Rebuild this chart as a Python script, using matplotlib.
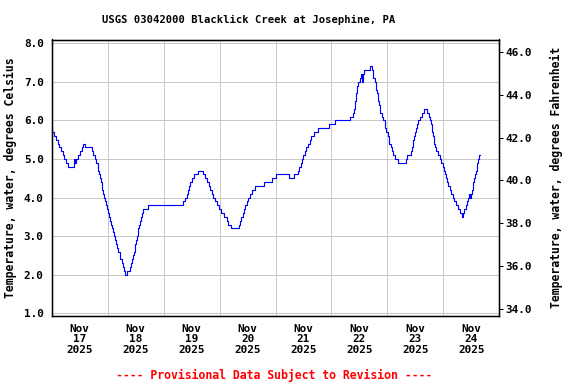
import matplotlib
matplotlib.use("Agg")
import matplotlib.pyplot as plt
import numpy as np

# hours since 2025-11-17 00:00 and water temperature (deg C), step readings
hours = [0, 0.3, 0.8, 1.8, 2.6, 3.2, 4.0, 4.7, 5.2, 6.2, 7.2, 9.7, 10.2, 10.5, 11.3, 12.1, 12.9, 13.6,
         14.3, 17.3, 17.9, 18.6, 19.2, 19.7, 20.3, 20.8, 21.3, 21.7, 22.2, 22.6, 23.0, 23.4, 23.8,
         24.2, 24.6, 25.0, 25.4, 25.8, 26.2, 26.6, 27.1, 27.6, 28.1, 28.6, 29.1, 29.5, 30.0, 30.5,
         31.0, 31.5, 32.4, 33.8, 34.2, 34.6, 35.0, 35.3, 35.6, 35.9, 36.2, 36.6, 36.9, 37.2, 37.6,
         38.0, 38.4, 38.8, 39.3, 40.3, 41.2, 56.4, 57.1, 57.9, 58.5, 58.9, 59.4, 60.2, 61.0, 62.7,
         64.9, 65.6, 66.5, 67.4, 68.0, 68.6, 69.2, 70.0, 70.8, 71.6, 72.6, 74.0, 75.0, 75.8, 76.8,
         80.2, 80.9, 81.4, 81.9, 82.5, 83.1, 83.6, 84.4, 85.1, 85.8, 87.2, 90.9, 94.7, 96.4,
         101.9, 103.9, 105.5, 106.2, 106.8, 107.4, 108.0, 108.5, 109.2, 109.9, 110.6, 111.3, 112.4,
         114.3, 118.9, 121.4, 127.9, 129.3, 129.7, 130.0, 130.3, 130.6, 131.0, 131.4, 132.1, 132.5,
         133.2, 133.4, 133.8, 136.6, 137.3, 137.8, 138.5, 138.9, 139.4, 139.9, 140.5, 140.9, 141.5,
         142.2, 142.9, 143.5, 144.1, 144.7, 145.4, 146.0, 146.6, 147.4, 148.4, 151.8, 152.6, 154.2,
         154.5, 154.8, 155.1, 155.4, 155.9, 156.2, 156.5, 157.0, 157.9, 158.7, 159.5, 161.1, 161.9,
         162.4, 162.7, 163.0, 163.3, 163.6, 163.9, 164.1, 164.5, 165.0, 165.8, 166.5, 167.1, 167.7,
         168.2, 168.6, 169.1, 169.7, 170.2, 170.8, 171.4, 172.0, 172.7, 173.4, 174.3, 175.1, 175.8,
         176.4, 177.0, 177.6, 178.1, 178.6, 179.2, 179.4, 179.7, 180.2, 180.6, 180.9, 181.3, 181.6,
         181.9, 182.3, 182.6, 182.9, 183.3, 183.7]
temps = [5.8, 5.7, 5.6, 5.5, 5.4, 5.3, 5.2, 5.1, 5.0, 4.9, 4.8, 5.0, 4.9, 5.0, 5.1, 5.2, 5.3, 5.4,
         5.3, 5.2, 5.1, 5.0, 4.9, 4.7, 4.6, 4.5, 4.4, 4.2, 4.1, 4.0, 3.9, 3.8, 3.7,
         3.6, 3.5, 3.4, 3.3, 3.2, 3.1, 3.0, 2.9, 2.8, 2.7, 2.6, 2.5, 2.4, 2.3, 2.2,
         2.1, 2.0, 2.1, 2.2, 2.3, 2.4, 2.5, 2.6, 2.7, 2.8, 2.9, 3.0, 3.1, 3.2, 3.3,
         3.4, 3.5, 3.6, 3.7, 3.7, 3.8, 3.9, 4.0, 4.1, 4.2, 4.3, 4.4, 4.5, 4.6, 4.7,
         4.6, 4.5, 4.4, 4.3, 4.2, 4.1, 4.0, 3.9, 3.8, 3.7, 3.6, 3.5, 3.4, 3.3, 3.2,
         3.3, 3.4, 3.5, 3.6, 3.7, 3.8, 3.9, 4.0, 4.1, 4.2, 4.3, 4.4, 4.5, 4.6,
         4.5, 4.6, 4.7, 4.8, 4.9, 5.0, 5.1, 5.2, 5.3, 5.4, 5.5, 5.6, 5.7,
         5.8, 5.9, 6.0, 6.1, 6.2, 6.3, 6.4, 6.5, 6.7, 6.9, 7.0, 7.1, 7.2,
         7.0, 7.2, 7.3, 7.4, 7.3, 7.1, 7.0, 6.8, 6.7, 6.5, 6.4, 6.2, 6.1,
         6.0, 5.8, 5.7, 5.6, 5.4, 5.3, 5.2, 5.1, 5.0, 4.9, 5.0, 5.1, 5.2,
         5.3, 5.4, 5.5, 5.6, 5.7, 5.8, 5.9, 6.0, 6.1, 6.2, 6.3, 6.2, 6.1,
         6.0, 5.9, 5.8, 5.7, 5.6, 5.5, 5.4, 5.3, 5.2, 5.1, 5.0, 4.9, 4.8,
         4.7, 4.6, 4.5, 4.4, 4.3, 4.2, 4.1, 4.0, 3.9, 3.8, 3.7, 3.6, 3.5,
         3.6, 3.7, 3.8, 3.9, 4.0, 4.1, 4.0, 4.1, 4.2, 4.3, 4.4, 4.5, 4.6,
         4.7, 4.8, 4.9, 5.0, 5.1, 5.1]

day_labels = ["Nov\n17\n2025", "Nov\n18\n2025", "Nov\n19\n2025", "Nov\n20\n2025",
              "Nov\n21\n2025", "Nov\n22\n2025", "Nov\n23\n2025", "Nov\n24\n2025"]
c_ticks = [1.0, 2.0, 3.0, 4.0, 5.0, 6.0, 7.0, 8.0]
f_ticks = [34.0, 36.0, 38.0, 40.0, 42.0, 44.0, 46.0]

FONT = "DejaVu Sans Mono"
plt.rcParams['font.family'] = FONT
plt.rcParams['font.weight'] = 'bold'

fig = plt.figure(figsize=(8, 384 / 72), dpi=72)
ax = fig.add_axes([51.7 / 576, 1 - 316 / 384, (499.3 - 51.7) / 576, (316 - 39.5) / 384])

ax.plot(hours, temps, drawstyle='steps-post', color='#0000ff', lw=1.15)

ax.set_xlim(0, 192)
ylo, yhi = 0.93, 8.1
ax.set_ylim(ylo, yhi)

ax.set_xticks(np.arange(24, 192, 24))
ax.set_xticks(np.arange(12, 192, 24), minor=True)
ax.set_xticklabels([])
ax.set_xticklabels(day_labels, minor=True, fontsize=11, fontweight='bold', linespacing=1.05)
ax.tick_params(axis='x', which='both', length=0, pad=8)
ax.set_yticks(c_ticks)
ax.set_yticklabels([f"{v:.1f}" for v in c_ticks], fontsize=11, fontweight='bold')
ax.tick_params(axis='y', length=0, pad=8)
ax.grid(True, which='major', color='#c8c8c8', lw=1.0)
ax.set_axisbelow(True)
for s in ax.spines.values():
    s.set_linewidth(1.3)
    s.set_color('black')

ax.set_ylabel("Temperature, water, degrees Celsius", fontsize=11.5, fontweight='bold', labelpad=7)

ax2 = ax.twinx()
ax2.set_ylim(ylo * 9 / 5 + 32, yhi * 9 / 5 + 32)
ax2.set_yticks(f_ticks)
ax2.set_yticklabels([f"{v:.1f}" for v in f_ticks], fontsize=11, fontweight='bold')
ax2.tick_params(axis='y', length=4, width=1, pad=2, direction='out')
ax2.set_ylabel("Temperature, water, degrees Fahrenheit", fontsize=11.5, fontweight='bold', labelpad=18)
for s in ax2.spines.values():
    s.set_linewidth(1.3)

fig.text(249 / 576, 1 - 20 / 384, "USGS 03042000 Blacklick Creek at Josephine, PA",
         ha='center', va='center', fontsize=10.5, fontweight='bold')
fig.text(274.5 / 576, 1 - 375 / 384, "---- Provisional Data Subject to Revision ----",
         ha='center', va='center', fontsize=11.5, fontweight='bold', color='red')

fig.savefig("out.png", dpi=72)
